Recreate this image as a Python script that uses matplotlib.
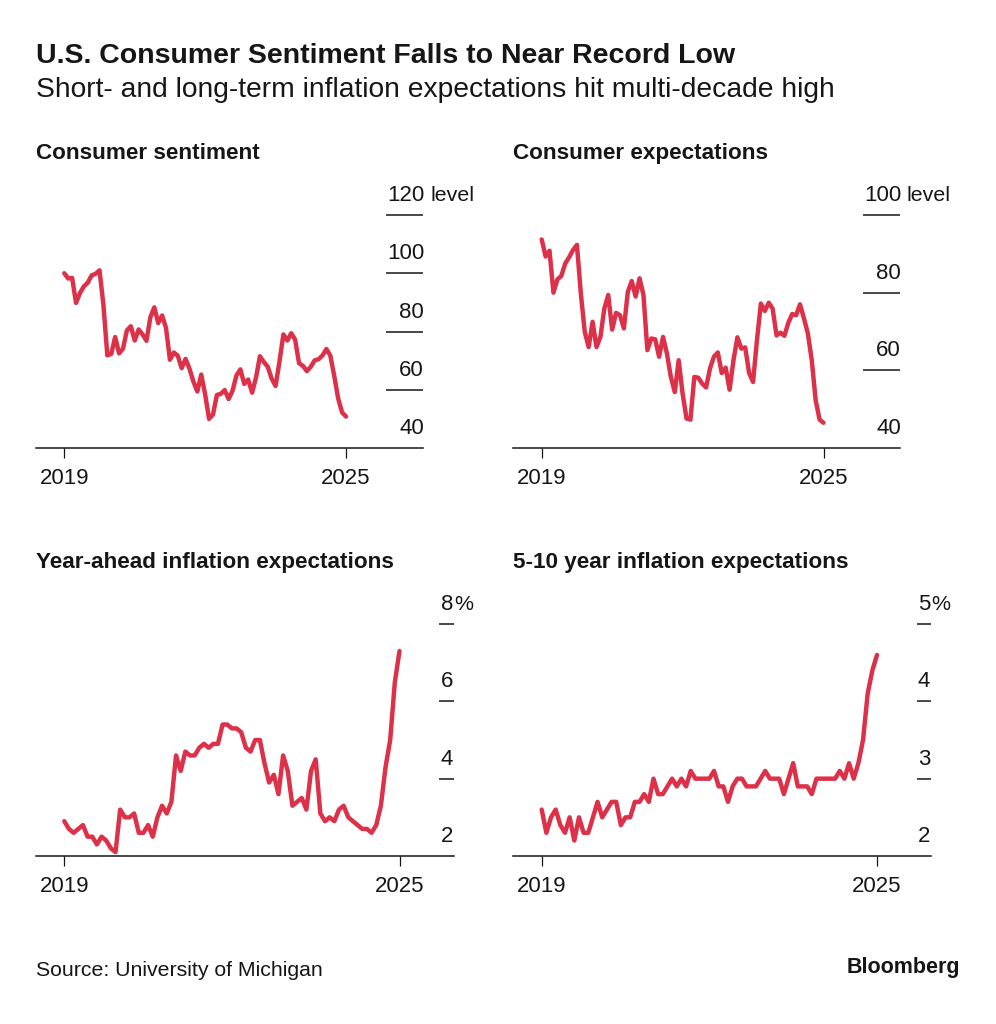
import numpy as np
import matplotlib
matplotlib.use("Agg")
import matplotlib.pyplot as plt

plt.rcParams['font.family'] = ['Liberation Sans', 'DejaVu Sans']

# monthly readings (73 points)
sentiment = [100.0, 98.2, 98.4, 89.8, 93.2, 95.5, 96.8, 99.3, 99.8, 101.0, 89.1, 71.8,
             72.3, 78.1, 72.5, 74.1, 80.4, 81.8, 76.9, 80.7, 79.0, 76.8, 84.9, 88.3,
             82.9, 85.5, 81.2, 70.3, 72.8, 71.7, 67.4, 70.6, 67.2, 62.8, 59.4, 65.2,
             58.4, 50.0, 51.5, 58.2, 58.6, 59.9, 56.8, 59.7, 64.9, 67.0, 62.0, 63.5,
             59.0, 64.2, 71.5, 69.5, 67.9, 63.8, 61.3, 69.7, 79.0, 76.9, 79.4, 77.2,
             69.1, 68.2, 66.4, 67.9, 70.1, 70.5, 71.8, 74.0, 71.7, 64.7, 57.0, 52.2, 50.8]

expectations = [93.7, 89.3, 90.8, 80.0, 83.4, 84.3, 87.5, 89.1, 91.0, 92.3, 79.8, 69.9,
                66.0, 72.5, 66.0, 68.6, 75.9, 79.4, 70.5, 74.8, 74.2, 70.8, 80.2, 83.0,
                79.0, 83.7, 79.4, 65.2, 68.2, 68.0, 63.5, 68.6, 64.3, 58.3, 54.4, 62.6,
                54.0, 47.6, 47.3, 58.3, 58.1, 56.6, 55.6, 60.5, 63.5, 64.6, 59.3, 60.7,
                55.0, 62.6, 68.5, 65.6, 65.9, 59.3, 57.0, 67.8, 77.2, 75.3, 77.4, 75.9,
                69.0, 69.7, 68.9, 72.2, 74.5, 74.2, 77.0, 73.4, 69.5, 62.6, 52.3, 47.3, 46.5]

year_ahead = [2.9, 2.7, 2.6, 2.7, 2.8, 2.5, 2.5, 2.3, 2.5, 2.4, 2.2, 2.1,
              3.2, 3.0, 3.0, 3.1, 2.6, 2.6, 2.8, 2.5, 3.0, 3.3, 3.1, 3.4,
              4.6, 4.2, 4.7, 4.6, 4.6, 4.8, 4.9, 4.8, 4.9, 4.9, 5.4, 5.4,
              5.3, 5.3, 5.2, 4.8, 4.7, 5.0, 5.0, 4.4, 3.9, 4.1, 3.6, 4.6,
              4.2, 3.3, 3.4, 3.5, 3.2, 4.2, 4.5, 3.1, 2.9, 3.0, 2.9, 3.2,
              3.3, 3.0, 2.9, 2.8, 2.7, 2.7, 2.6, 2.8, 3.3, 4.3, 5.0, 6.5, 7.3]

long_term = [2.6, 2.3, 2.5, 2.6, 2.4, 2.3, 2.5, 2.2, 2.5, 2.3, 2.3, 2.5,
             2.7, 2.5, 2.6, 2.7, 2.7, 2.4, 2.5, 2.5, 2.7, 2.7, 2.8, 2.7,
             3.0, 2.8, 2.8, 2.9, 3.0, 2.9, 3.0, 2.9, 3.1, 3.0, 3.0, 3.0,
             3.0, 3.1, 2.9, 2.9, 2.7, 2.9, 3.0, 3.0, 2.9, 2.9, 2.9, 3.0,
             3.1, 3.0, 3.0, 3.0, 2.8, 3.0, 3.2, 2.9, 2.9, 2.9, 2.8, 3.0,
             3.0, 3.0, 3.0, 3.0, 3.1, 3.0, 3.2, 3.0, 3.2, 3.5, 4.1, 4.4, 4.6]

sent_ticks = [40, 60, 80, 100, 120]
exp_ticks = [40, 60, 80, 100]
year_ticks = [2, 4, 6, 8]
long_ticks = [2, 3, 4, 5]
year_labels = ['2019', '2025']

W, H = 996, 1024
RED = '#dc3149'
INK = '#161616'


def panel(values, ticks, unit, title, left, right, top, bottom, tick0, tick1, mark_left, title_x):
    ax = fig.add_axes([left / W, 1 - bottom / H, (right - left) / W, (bottom - top) / H])
    ax.patch.set_visible(False)

    # put first/last month exactly under the x ticks
    last = len(values) - 1
    per_month = (tick1 - tick0) / last
    ax.set_xlim((left - tick0) / per_month, (right - tick0) / per_month)
    ax.set_ylim(ticks[0], ticks[-1])

    for side in ['top', 'left', 'right']:
        ax.spines[side].set_visible(False)
    ax.spines['bottom'].set_color(INK)
    ax.spines['bottom'].set_linewidth(1.1)

    ax.set_yticks([])
    ax.set_xticks([0, last])
    ax.set_xticklabels(year_labels, fontsize=16, color=INK)
    ax.tick_params(axis='x', length=7.5, width=0.9, color=INK, pad=7)

    ax.plot(range(len(values)), values, color=RED, lw=3.2, solid_joinstyle='round',
            solid_capstyle='round', zorder=3, clip_on=False)

    frac = (mark_left - left) / (right - left)
    trans = ax.get_yaxis_transform()
    ax.hlines(ticks[1:], frac, 1, transform=trans, color=INK, lw=1.1, clip_on=False)
    # percent panels sit their digits just left of the axis end
    nudge = 1 if unit == 'level' else -1
    for v in ticks:
        ax.annotate(str(v), xy=(1, v), xycoords=trans, xytext=(nudge, 14), textcoords='offset pixels',
                    ha='right', va='baseline', fontsize=16, color=INK)
    # unit goes beside the top label
    gap = 7 if unit == 'level' else 0
    ax.annotate(unit, xy=(1, ticks[-1]), xycoords=trans, xytext=(gap, 14),
                textcoords='offset pixels', ha='left', va='baseline', fontsize=15.4, color=INK)

    fig.text(title_x / W, 1 - (top - 56) / H, title, fontsize=16.2,
             fontweight='bold', color=INK, va='baseline')
    return ax


fig = plt.figure(figsize=(W / 100, H / 100), dpi=100, facecolor='white')

fig.text(36 / W, 1 - 63 / H, 'U.S. Consumer Sentiment Falls to Near Record Low', fontsize=20.5,
         fontweight='bold', color=INK, va='baseline')
fig.text(36 / W, 1 - 97 / H, 'Short- and long-term inflation expectations hit multi-decade high',
         fontsize=20.3, color=INK, va='baseline')

panel(sentiment, sent_ticks, 'level', 'Consumer sentiment', 36, 423, 215, 448, 64.3, 346, 386, 36)
panel(expectations, exp_ticks, 'level', 'Consumer expectations', 513, 900, 215, 448, 541.7, 823.5, 863, 513)
panel(year_ahead, year_ticks, '%', 'Year-ahead inflation expectations', 36, 454, 624, 856, 64.3, 399.5, 439, 36)
panel(long_term, long_ticks, '%', '5-10 year inflation expectations', 513, 931, 624, 856, 541.7, 877, 917, 513)

fig.text(36 / W, 1 - 976 / H, 'Source: University of Michigan', fontsize=15.3, color=INK, va='baseline')
fig.text(960 / W, 1 - 973 / H, 'Bloomberg', fontsize=15.5, fontweight='bold', color=INK,
         ha='right', va='baseline')

fig.savefig('out.png', dpi=100)
